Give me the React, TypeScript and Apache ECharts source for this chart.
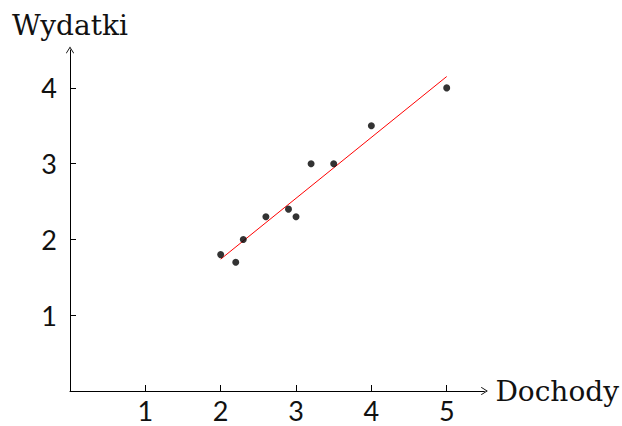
import React, { useEffect, useRef } from "react";
import * as echarts from "echarts";

const incomes = [2.0, 2.2, 2.3, 2.6, 2.9, 3.0, 3.2, 3.5, 4.0, 5.0];
const expenses = [1.8, 1.7, 2.0, 2.3, 2.4, 2.3, 3.0, 3.0, 3.5, 4.0];
const fitLine = [
  [2.0, 1.74],
  [5.0, 4.15],
];
const xTicks = [1, 2, 3, 4, 5];
const yTicks = [1, 2, 3, 4];
const xName = "Dochody";
const yName = "Wydatki";

const arrowPath =
  "path://M0,0 L5,8 L4.3,8.7 L0,2 L-4.3,8.7 L-5,8 Z";

export default function App() {
  const ref = useRef<HTMLDivElement>(null);
  useEffect(() => {
    if (!ref.current) return;
    const chart = echarts.init(ref.current, undefined, { renderer: "svg" });
    const labelFont = { fontFamily: "Lato", fontSize: 27, lineHeight: 22, color: "#111" };
    const nameFont = { fontFamily: "DejaVu Serif", fontSize: 28, color: "#111" };
    const axisLine = {
      show: true,
      symbol: ["none", arrowPath],
      symbolSize: [8, 8],
      symbolOffset: [0, 0],
      lineStyle: { color: "#000", width: 1 },
    };
    chart.setOption({
      animation: false,
      backgroundColor: "#fff",
      grid: { left: 70, top: 50, width: 417, height: 341 },
      xAxis: {
        type: "value",
        min: 0,
        max: 5.5,
        interval: 1,
        name: xName,
        nameLocation: "end",
        nameGap: 11,
        nameTextStyle: nameFont,
        axisLine,
        axisTick: { show: true, inside: true, length: 6, customValues: xTicks, lineStyle: { color: "#000" } },
        axisLabel: { ...labelFont, margin: 8, customValues: xTicks },
        splitLine: { show: false },
      },
      yAxis: {
        type: "value",
        min: 0,
        max: 4.5,
        interval: 1,
        name: yName,
        nameLocation: "end",
        nameGap: 11,
        nameTextStyle: nameFont,
        axisLine,
        axisTick: { show: true, inside: true, length: 6, customValues: yTicks, lineStyle: { color: "#000" } },
        axisLabel: { ...labelFont, margin: 13, customValues: yTicks },
        splitLine: { show: false },
      },
      series: [
        {
          type: "line",
          data: fitLine,
          symbol: "none",
          lineStyle: { color: "#ff0000", width: 1 },
          z: 1,
        },
        {
          type: "scatter",
          data: incomes.map((x, i) => [x, expenses[i]]),
          symbol: "circle",
          symbolSize: 7,
          itemStyle: { color: "#000" },
          z: 2,
        },
      ],
    });
    return () => chart.dispose();
  }, []);
  return (
    <div
      ref={ref}
      style={{ position: "fixed", left: 0, top: 0, width: 622, height: 426 }}
    />
  );
}
